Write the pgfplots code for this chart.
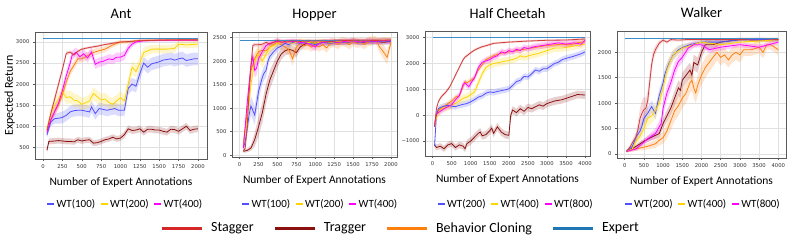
\documentclass[border=0pt]{standalone}
\usepackage{pgfplots}
\usepackage{pgfplotstable}
\pgfplotsset{compat=1.18}
\usepgfplotslibrary{fillbetween}
\usepackage{fontspec}
\setmainfont{Carlito}
\newfontfamily\dejavu{DejaVu Sans}
\newcommand\tickfont{\dejavu\fontsize{5.3}{6}\selectfont}

\definecolor{cS}{HTML}{D33C3C}
\definecolor{cSl}{HTML}{D62728}
\definecolor{cT}{HTML}{8B1010}
\definecolor{cB}{HTML}{FF7F0E}
\definecolor{cE}{HTML}{3C8CC8}
\definecolor{cEl}{HTML}{1F77B4}
\definecolor{cW1}{HTML}{5050FF}
\definecolor{cW2}{HTML}{FFD400}
\definecolor{cW3}{HTML}{FF00FF}

% ---------------- Ant ----------------
\pgfplotstableread[row sep=\\]{x y e\\ 50 900 60\\ 100 1300 80\\ 150 1650 90\\ 200 2000 90\\ 250 2350 80\\ 300 2730 50\\ 350 2760 40\\ 400 2690 40\\ 450 2780 30\\ 500 2830 30\\ 550 2850 30\\ 600 2870 30\\ 700 2900 30\\ 800 2940 25\\ 900 2970 25\\ 1000 3000 20\\ 1100 3010 20\\ 1250 3030 20\\ 1500 3040 15\\ 1750 3050 15\\ 2000 3050 15\\}\antS
\pgfplotstableread[row sep=\\]{x y e\\ 50 430 60\\ 75 640 70\\ 150 650 70\\ 200 660 70\\ 250 650 70\\ 300 640 70\\ 350 640 70\\ 400 630 70\\ 450 680 70\\ 500 650 70\\ 550 670 70\\ 600 680 70\\ 650 600 70\\ 700 610 70\\ 750 640 70\\ 800 680 70\\ 850 700 70\\ 900 740 70\\ 950 700 70\\ 1000 720 70\\ 1050 800 80\\ 1100 940 80\\ 1150 900 80\\ 1200 910 80\\ 1250 940 80\\ 1300 860 80\\ 1350 930 80\\ 1400 930 80\\ 1450 910 80\\ 1500 910 80\\ 1550 880 80\\ 1600 860 80\\ 1650 930 80\\ 1700 920 80\\ 1750 880 80\\ 1800 940 80\\ 1850 1000 80\\ 1900 900 80\\ 1950 930 80\\ 2000 940 80\\}\antT
\pgfplotstableread[row sep=\\]{x y e\\ 50 900 60\\ 100 1150 80\\ 150 1350 90\\ 200 1500 100\\ 250 1750 100\\ 300 2050 100\\ 350 2300 100\\ 400 2450 100\\ 450 2600 90\\ 500 2600 90\\ 550 2650 90\\ 600 2700 80\\ 650 2750 80\\ 700 2780 80\\ 800 2830 70\\ 900 2930 60\\ 1000 3000 50\\ 1100 3000 40\\ 1250 3040 30\\ 1500 3050 25\\ 1750 3050 25\\ 2000 3050 25\\}\antB
\pgfplotstableread[row sep=\\]{x y e\\ 50 790 60\\ 100 1100 100\\ 150 1180 120\\ 200 1190 130\\ 250 1210 140\\ 300 1260 140\\ 350 1340 140\\ 400 1370 140\\ 450 1380 140\\ 500 1380 140\\ 550 1360 140\\ 600 1340 140\\ 625 1460 140\\ 675 1300 140\\ 725 1420 140\\ 775 1400 140\\ 825 1380 140\\ 875 1400 140\\ 925 1420 140\\ 975 1380 140\\ 1050 1380 140\\ 1100 1900 150\\ 1150 2000 150\\ 1200 1950 150\\ 1250 2250 150\\ 1300 2500 150\\ 1350 2400 150\\ 1400 2480 150\\ 1500 2530 150\\ 1550 2570 150\\ 1650 2600 150\\ 1700 2570 150\\ 1750 2600 150\\ 1800 2620 150\\ 1850 2560 150\\ 1950 2600 150\\ 2000 2600 150\\}\antWa
\pgfplotstableread[row sep=\\]{x y e\\ 50 950 60\\ 100 1300 120\\ 150 1500 150\\ 200 1650 150\\ 250 1820 150\\ 300 1680 150\\ 350 1700 150\\ 400 1620 150\\ 450 1600 150\\ 500 1520 150\\ 550 1560 150\\ 600 1600 150\\ 650 1780 150\\ 700 1700 150\\ 750 1620 150\\ 800 1650 150\\ 850 1560 150\\ 900 1520 150\\ 950 1600 150\\ 1000 1680 150\\ 1050 1600 150\\ 1100 2000 150\\ 1150 2400 150\\ 1200 2300 150\\ 1250 2500 150\\ 1300 2750 120\\ 1400 2830 100\\ 1500 2830 100\\ 1600 2830 100\\ 1700 2850 100\\ 1750 2950 80\\ 1850 2930 80\\ 2000 2950 80\\}\antWb
\pgfplotstableread[row sep=\\]{x y e\\ 50 850 60\\ 100 1150 100\\ 150 1350 110\\ 200 1550 110\\ 250 1850 110\\ 300 2200 110\\ 350 2500 110\\ 375 2680 110\\ 425 2760 110\\ 475 2650 110\\ 525 2720 110\\ 575 2620 110\\ 625 2760 110\\ 675 2470 110\\ 725 2520 110\\ 775 2540 110\\ 850 2600 110\\ 900 2580 110\\ 950 2640 110\\ 1000 2640 110\\ 1050 2680 110\\ 1100 2850 90\\ 1150 2950 70\\ 1200 3000 50\\ 1300 3030 30\\ 1500 3040 25\\ 1750 3040 25\\ 2000 3040 25\\}\antWc

% ---------------- Hopper ----------------
\pgfplotstableread[row sep=\\]{x y e\\ 50 90 30\\ 75 150 50\\ 100 600 100\\ 125 1300 120\\ 150 1900 100\\ 175 2330 50\\ 200 2350 40\\ 250 2350 40\\ 300 2360 40\\ 350 2400 40\\ 400 2360 40\\ 450 2400 40\\ 500 2440 40\\ 550 2400 40\\ 600 2420 40\\ 700 2430 40\\ 800 2420 40\\ 1000 2430 40\\ 1200 2420 40\\ 1400 2440 40\\ 1600 2430 40\\ 1800 2440 40\\ 2000 2450 40\\}\hopS
\pgfplotstableread[row sep=\\]{x y e\\ 50 80 30\\ 100 100 40\\ 150 150 60\\ 200 330 150\\ 250 600 200\\ 300 900 220\\ 350 1300 220\\ 400 1600 200\\ 450 1800 180\\ 500 2000 150\\ 550 2150 120\\ 600 2220 100\\ 650 2250 100\\ 700 2230 100\\ 750 2180 100\\ 800 2300 80\\ 850 2350 60\\ 900 2400 60\\ 1000 2380 60\\ 1100 2400 60\\ 1200 2390 60\\ 1300 2410 60\\ 1400 2400 60\\ 1500 2420 60\\ 1600 2400 60\\ 1700 2410 60\\ 1800 2420 60\\ 1900 2400 60\\ 2000 2420 60\\}\hopT
\pgfplotstableread[row sep=\\]{x y e\\ 50 250 80\\ 100 900 150\\ 125 1400 150\\ 150 1800 150\\ 200 2050 150\\ 250 2200 120\\ 300 2230 120\\ 350 2220 120\\ 400 2300 120\\ 450 2350 100\\ 500 2400 100\\ 550 2350 100\\ 600 2300 120\\ 650 2250 130\\ 700 2050 150\\ 750 2300 120\\ 800 2380 100\\ 850 2330 100\\ 900 2350 100\\ 950 2300 100\\ 1000 2350 100\\ 1050 2300 100\\ 1100 2350 100\\ 1150 2280 100\\ 1200 2380 100\\ 1250 2400 100\\ 1300 2350 100\\ 1350 2420 100\\ 1400 2400 100\\ 1450 2350 100\\ 1500 2420 100\\ 1550 2380 100\\ 1600 2400 100\\ 1650 2350 100\\ 1700 2420 100\\ 1750 2430 100\\ 1800 2450 80\\ 1850 2300 120\\ 1900 2200 150\\ 1950 2080 150\\ 2000 2400 100\\}\hopB
\pgfplotstableread[row sep=\\]{x y e\\ 50 150 60\\ 75 300 100\\ 100 550 150\\ 125 850 200\\ 150 1050 200\\ 175 950 200\\ 200 850 200\\ 225 1100 200\\ 250 1350 180\\ 300 1650 150\\ 325 1750 150\\ 350 1800 150\\ 375 2000 120\\ 400 2100 100\\ 450 2200 80\\ 500 2280 80\\ 550 2320 60\\ 600 2380 60\\ 650 2350 60\\ 700 2400 60\\ 800 2380 60\\ 900 2400 60\\ 1000 2350 60\\ 1100 2400 60\\ 1200 2380 60\\ 1300 2410 60\\ 1400 2400 60\\ 1500 2420 60\\ 1600 2400 60\\ 1700 2420 60\\ 1800 2410 60\\ 1900 2430 60\\ 2000 2420 60\\}\hopWa
\pgfplotstableread[row sep=\\]{x y e\\ 50 200 80\\ 100 700 150\\ 125 1100 150\\ 150 1500 150\\ 175 1750 150\\ 200 2000 150\\ 250 2150 150\\ 300 2000 150\\ 350 2150 120\\ 400 2300 100\\ 450 2330 80\\ 500 2380 60\\ 600 2400 60\\ 700 2380 60\\ 800 2420 60\\ 900 2400 60\\ 1000 2380 60\\ 1100 2420 60\\ 1200 2400 60\\ 1300 2420 60\\ 1400 2410 60\\ 1500 2430 60\\ 1600 2420 60\\ 1700 2430 60\\ 1800 2440 60\\ 1900 2450 60\\ 2000 2450 60\\}\hopWb
\pgfplotstableread[row sep=\\]{x y e\\ 50 150 60\\ 100 1100 150\\ 150 1900 150\\ 175 2100 150\\ 200 1800 150\\ 225 1850 150\\ 250 2050 120\\ 300 2200 100\\ 350 2330 80\\ 400 2380 60\\ 450 2400 60\\ 500 2420 60\\ 600 2400 60\\ 700 2420 60\\ 800 2400 60\\ 900 2380 60\\ 1000 2300 80\\ 1050 2380 60\\ 1100 2400 60\\ 1200 2420 60\\ 1300 2400 60\\ 1400 2420 60\\ 1500 2430 60\\ 1600 2410 60\\ 1700 2430 60\\ 1800 2420 60\\ 1900 2440 60\\ 2000 2430 60\\}\hopWc

% ---------------- Half Cheetah ----------------
\pgfplotstableread[row sep=\\]{x y e\\ 50 -450 60\\ 100 250 80\\ 150 520 60\\ 200 650 60\\ 250 750 60\\ 300 820 60\\ 350 900 60\\ 400 1000 60\\ 450 1100 60\\ 500 1250 60\\ 550 1400 60\\ 600 1550 60\\ 650 1700 60\\ 700 1850 60\\ 750 2000 60\\ 800 2150 60\\ 850 2250 60\\ 900 2300 60\\ 1000 2420 50\\ 1100 2520 50\\ 1200 2590 50\\ 1300 2650 50\\ 1450 2710 50\\ 1600 2780 40\\ 1750 2800 40\\ 2000 2830 40\\ 2500 2870 40\\ 3000 2900 40\\ 3500 2910 40\\ 4000 2950 40\\}\cheS
\pgfplotstableread[row sep=\\]{x y e\\ 50 -1150 100\\ 100 -1250 120\\ 200 -1200 120\\ 300 -1300 120\\ 400 -1150 120\\ 500 -1100 120\\ 600 -1250 120\\ 700 -1150 130\\ 800 -1200 130\\ 850 -1300 130\\ 900 -1100 140\\ 1000 -1000 150\\ 1100 -850 150\\ 1200 -700 150\\ 1250 -650 150\\ 1300 -800 150\\ 1400 -750 150\\ 1500 -600 150\\ 1550 -500 150\\ 1600 -700 150\\ 1700 -450 150\\ 1800 -650 150\\ 1900 -750 150\\ 2000 -780 150\\ 2050 0 150\\ 2100 200 150\\ 2200 100 150\\ 2300 250 150\\ 2400 150 150\\ 2500 300 150\\ 2600 250 150\\ 2800 400 150\\ 2900 350 150\\ 3000 450 150\\ 3200 550 150\\ 3400 600 150\\ 3600 700 150\\ 3800 800 150\\ 4000 780 150\\}\cheT
\pgfplotstableread[row sep=\\]{x y e\\ 50 -400 80\\ 100 100 100\\ 200 250 100\\ 300 300 100\\ 400 450 100\\ 500 550 100\\ 600 700 100\\ 700 750 100\\ 800 1100 100\\ 850 1300 100\\ 900 1250 100\\ 1000 1350 100\\ 1100 1450 100\\ 1200 1750 100\\ 1300 1950 100\\ 1400 2150 100\\ 1600 2300 100\\ 1800 2400 100\\ 2000 2450 100\\ 2200 2500 100\\ 2400 2550 100\\ 2600 2600 100\\ 2800 2650 100\\ 3000 2700 100\\ 3200 2720 100\\ 3400 2750 100\\ 3600 2720 100\\ 3800 2800 100\\ 4000 2850 100\\}\cheB
\pgfplotstableread[row sep=\\]{x y e\\ 50 -1200 100\\ 100 0 120\\ 150 250 120\\ 200 300 120\\ 300 350 120\\ 400 380 120\\ 500 350 120\\ 600 330 120\\ 700 380 120\\ 800 420 120\\ 900 450 120\\ 1000 520 120\\ 1100 600 120\\ 1200 700 120\\ 1300 750 120\\ 1400 850 120\\ 1500 900 120\\ 1600 880 120\\ 1700 920 120\\ 1800 950 120\\ 1900 980 120\\ 2000 1020 120\\ 2100 1150 120\\ 2200 1300 120\\ 2300 1350 120\\ 2400 1500 120\\ 2500 1480 120\\ 2600 1600 120\\ 2700 1750 120\\ 2800 1700 120\\ 2900 1800 120\\ 3000 1800 120\\ 3100 1900 120\\ 3200 2000 120\\ 3300 2050 120\\ 3400 2150 120\\ 3500 2200 120\\ 3700 2280 120\\ 3900 2380 120\\ 4000 2450 120\\}\cheWa
\pgfplotstableread[row sep=\\]{x y e\\ 50 -400 80\\ 100 -100 120\\ 200 200 150\\ 300 300 150\\ 400 300 150\\ 500 400 150\\ 600 450 150\\ 700 550 150\\ 800 650 150\\ 900 700 150\\ 1000 800 150\\ 1100 900 150\\ 1200 1250 150\\ 1300 1600 150\\ 1400 1850 150\\ 1500 1950 150\\ 1600 2000 150\\ 1800 2060 150\\ 2000 2120 150\\ 2200 2200 150\\ 2300 2300 150\\ 2400 2250 150\\ 2600 2330 150\\ 2800 2400 150\\ 3000 2500 150\\ 3200 2600 150\\ 3400 2600 150\\ 3600 2650 150\\ 3800 2700 150\\ 4000 2750 150\\}\cheWb
\pgfplotstableread[row sep=\\]{x y e\\ 50 -400 80\\ 100 50 120\\ 200 150 120\\ 300 250 120\\ 400 330 120\\ 500 400 120\\ 600 600 120\\ 700 750 120\\ 800 1200 120\\ 850 1250 120\\ 950 1100 120\\ 1050 1350 120\\ 1100 1450 120\\ 1200 1850 120\\ 1300 2050 120\\ 1400 2100 120\\ 1500 2150 120\\ 1600 2250 120\\ 1700 2300 120\\ 1800 2450 120\\ 1900 2400 120\\ 2000 2500 120\\ 2100 2450 120\\ 2200 2550 120\\ 2300 2500 120\\ 2400 2620 120\\ 2500 2580 120\\ 2700 2660 120\\ 2900 2700 120\\ 3100 2750 120\\ 3300 2800 120\\ 3500 2750 120\\ 3700 2800 120\\ 3900 2750 120\\ 4000 2900 120\\}\cheWc

% ---------------- Walker ----------------
\pgfplotstableread[row sep=\\]{x y e\\ 50 60 20\\ 100 100 30\\ 150 150 40\\ 200 220 60\\ 250 280 80\\ 300 340 100\\ 350 500 150\\ 400 700 200\\ 450 800 250\\ 500 870 250\\ 550 900 200\\ 600 1050 200\\ 650 1400 200\\ 700 1750 150\\ 750 1950 100\\ 800 2050 80\\ 900 2180 50\\ 1000 2240 30\\ 1100 2200 30\\ 1200 2250 30\\ 1400 2240 30\\ 1600 2250 30\\ 2000 2250 30\\ 2500 2250 25\\ 3000 2250 25\\ 3500 2270 25\\ 4000 2250 25\\}\walS
\pgfplotstableread[row sep=\\]{x y e\\ 50 50 20\\ 300 150 40\\ 500 250 50\\ 700 330 60\\ 900 400 80\\ 1000 600 100\\ 1100 750 120\\ 1200 900 120\\ 1300 1100 150\\ 1400 1300 150\\ 1450 1250 150\\ 1500 1450 150\\ 1600 1550 150\\ 1700 1650 150\\ 1750 1550 150\\ 1800 1800 150\\ 1900 1750 150\\ 2000 2000 120\\ 2100 2150 100\\ 2300 2150 80\\ 2500 2200 60\\ 3000 2250 40\\ 3500 2240 40\\ 4000 2250 40\\}\walT
\pgfplotstableread[row sep=\\]{x y e\\ 50 50 20\\ 300 100 40\\ 600 150 60\\ 800 200 80\\ 900 270 100\\ 1000 320 120\\ 1100 450 150\\ 1200 650 180\\ 1300 850 200\\ 1400 950 200\\ 1500 1100 200\\ 1600 1200 200\\ 1700 1400 200\\ 1750 1450 200\\ 1800 1300 200\\ 1850 1200 200\\ 1900 1350 200\\ 2000 1550 200\\ 2100 1700 200\\ 2200 1800 180\\ 2300 1900 180\\ 2400 2000 160\\ 2500 1900 160\\ 2600 1950 150\\ 2700 1850 150\\ 2800 1950 150\\ 2900 2000 150\\ 3000 1950 150\\ 3100 2050 120\\ 3300 2050 120\\ 3500 2100 120\\ 3600 2000 120\\ 3700 2150 100\\ 3800 2150 100\\ 3900 2100 100\\ 4000 2050 100\\}\walB
\pgfplotstableread[row sep=\\]{x y e\\ 50 50 20\\ 200 150 40\\ 300 340 80\\ 400 450 100\\ 450 550 120\\ 500 700 120\\ 600 800 120\\ 700 930 120\\ 800 800 120\\ 900 1150 120\\ 1000 1400 120\\ 1050 1580 120\\ 1150 1780 100\\ 1250 1930 100\\ 1400 2050 80\\ 1550 2110 60\\ 1700 2150 50\\ 2000 2200 40\\ 2500 2200 40\\ 3000 2250 30\\ 3500 2250 30\\ 4000 2250 30\\}\walWa
\pgfplotstableread[row sep=\\]{x y e\\ 50 50 20\\ 200 100 40\\ 300 250 60\\ 400 350 80\\ 500 500 120\\ 600 700 150\\ 700 750 150\\ 800 850 150\\ 900 1000 150\\ 1000 1300 150\\ 1100 1650 150\\ 1200 1850 120\\ 1300 1980 100\\ 1500 2080 80\\ 1700 2130 60\\ 2000 2200 40\\ 2500 2150 40\\ 3000 2200 30\\ 3500 2220 30\\ 4000 2250 30\\}\walWb
\pgfplotstableread[row sep=\\]{x y e\\ 50 50 20\\ 300 100 40\\ 600 300 60\\ 800 400 100\\ 950 600 120\\ 1000 900 150\\ 1100 1200 150\\ 1200 1400 150\\ 1300 1650 150\\ 1400 1820 120\\ 1500 1900 100\\ 1650 2080 80\\ 1800 2150 60\\ 2000 2150 50\\ 2200 2050 60\\ 2500 2100 60\\ 3000 2150 50\\ 3500 2100 50\\ 4000 2200 40\\}\walWc

\newcommand{\band}[3]{%
  \addplot[draw=none, name path=#3u, forget plot] table[x=x, y expr=\thisrow{y}+\thisrow{e}] {#2};
  \addplot[draw=none, name path=#3l, forget plot] table[x=x, y expr=\thisrow{y}-\thisrow{e}] {#2};
  \addplot[fill=#1, fill opacity=0.2, draw=none, forget plot] fill between[of=#3u and #3l];
}
\newcommand{\curve}[2]{\addplot[#1, line width=0.8pt, forget plot] table[x=x, y=y] {#2};}
\newcommand{\lcurve}[3]{\addplot[#1, line width=0.8pt] table[x=x, y=y] {#2}; \addlegendentry{#3}}

\pgfplotsset{panel/.style={
  scale only axis, anchor=south west,
  axis line style={black!65, line width=0.6pt},
  grid=major, major grid style={black!12, line width=0.5pt},
  tick align=outside, major tick length=2pt,
  xtick pos=lower, ytick pos=left,
  tick style={black!65, line width=0.5pt},
  tick label style={font=\tickfont, text=black!80},
  /pgf/number format/assume math mode=true,
  /pgf/number format/1000 sep={},
  xlabel={Number of Expert Annotations},
  xlabel style={font=\fontsize{11.5}{13}\selectfont, at={(axis description cs:0.5,0)}, anchor=base, yshift=-27pt},
  title style={font=\fontsize{14.5}{16}\selectfont, at={(axis description cs:0.5,1)}, anchor=base, yshift=7pt},
  legend columns=-1,
  legend style={draw=none, fill=none, inner sep=0pt, anchor=center,
    font=\fontsize{11}{12}\selectfont,
    nodes={inner sep=1.5pt},
    /tikz/every even column/.append style={column sep=3pt}},
  legend image code/.code={\draw[line width=2pt] (0pt,0pt) -- (7pt,0pt);},
}}

\begin{document}
\begin{tikzpicture}

% Ant
\begin{axis}[panel, at={(35pt,90pt)}, width=172pt, height=127pt,
  xmin=-104, xmax=2117, ymin=223, ymax=3237,
  xtick={0,250,...,2000}, ytick={500,1000,...,3000},
  title={Ant}, ylabel={Expected Return},
  ylabel style={font=\fontsize{12}{13}\selectfont, at={(axis description cs:-0.128,0.5)}, anchor=base},
  legend style={at={(axis description cs:0.523,-0.354)}}]
\band{cT}{\antT}{aT}\band{cB}{\antB}{aB}\band{cW1}{\antWa}{aWa}\band{cW2}{\antWb}{aWb}\band{cW3}{\antWc}{aWc}\band{cS}{\antS}{aS}
\curve{cT}{\antT}\curve{cB}{\antB}
\lcurve{cW1}{\antWa}{WT(100)}\lcurve{cW2}{\antWb}{WT(200)}\lcurve{cW3}{\antWc}{WT(400)}
\curve{cS}{\antS}
\addplot[cE, line width=0.9pt, forget plot] coordinates {(0,3090) (2000,3090)};
\end{axis}

% Hopper
\begin{axis}[panel, at={(232pt,92pt)}, width=165pt, height=125pt,
  xmin=-100, xmax=2080, ymin=-40, ymax=2620,
  xtick={0,250,...,2000}, ytick={0,500,...,2500},
  title={Hopper},
  legend style={at={(axis description cs:0.533,-0.376)}}]
\band{cT}{\hopT}{hT}\band{cB}{\hopB}{hB}\band{cW1}{\hopWa}{hWa}\band{cW2}{\hopWb}{hWb}\band{cW3}{\hopWc}{hWc}\band{cS}{\hopS}{hS}
\addplot[cE, line width=0.9pt, forget plot] coordinates {(0,2450) (2000,2450)};
\curve{cT}{\hopT}\curve{cB}{\hopB}
\lcurve{cW1}{\hopWa}{WT(100)}\lcurve{cW2}{\hopWb}{WT(200)}\lcurve{cW3}{\hopWc}{WT(400)}
\curve{cS}{\hopS}
\end{axis}

% Half Cheetah
\begin{axis}[panel, at={(425pt,93pt)}, width=165pt, height=124.3pt,
  xmin=-200, xmax=4130, ymin=-1580, ymax=3232,
  xtick={0,500,...,4000}, ytick={-1000,0,1000,2000,3000},
  yticklabels={−1000,0,1000,2000,3000},
  title={Half Cheetah},
  legend style={at={(axis description cs:0.548,-0.386)}}]
\band{cT}{\cheT}{cT}\band{cB}{\cheB}{cB}\band{cW1}{\cheWa}{cWa}\band{cW2}{\cheWb}{cWb}\band{cW3}{\cheWc}{cWc}\band{cS}{\cheS}{cS}
\curve{cT}{\cheT}\curve{cB}{\cheB}
\lcurve{cW1}{\cheWa}{WT(200)}\lcurve{cW2}{\cheWb}{WT(400)}\lcurve{cW3}{\cheWc}{WT(800)}
\curve{cS}{\cheS}
\addplot[cE, line width=0.9pt, forget plot] coordinates {(0,3000) (4000,3000)};
\end{axis}

% Walker
\begin{axis}[panel, at={(617pt,91pt)}, width=169pt, height=127pt,
  xmin=-200, xmax=4200, ymin=-80, ymax=2419,
  xtick={0,500,...,4000}, ytick={0,500,...,2000},
  title={Walker},
  legend style={at={(axis description cs:0.506,-0.362)}}]
\band{cT}{\walT}{wT}\band{cB}{\walB}{wB}\band{cW1}{\walWa}{wWa}\band{cW2}{\walWb}{wWb}\band{cW3}{\walWc}{wWc}\band{cS}{\walS}{wS}
\curve{cB}{\walB}\curve{cT}{\walT}
\lcurve{cW1}{\walWa}{WT(200)}\lcurve{cW2}{\walWb}{WT(400)}\lcurve{cW3}{\walWc}{WT(800)}
\curve{cS}{\walS}
\addplot[cE, line width=0.9pt, forget plot] coordinates {(0,2276) (4000,2276)};
\end{axis}

% shared legend
\begin{axis}[hide axis, scale only axis, anchor=south west, at={(0pt,0pt)},
  width=793pt, height=40pt, xmin=0, xmax=1, ymin=0, ymax=1,
  legend columns=-1,
  legend style={draw=none, fill=none, at={(axis description cs:0.505,0.525)}, anchor=center,
    font=\fontsize{14}{15}\selectfont, inner sep=0pt, nodes={inner sep=1.5pt},
    /tikz/every odd column/.append style={column sep=6pt},
    /tikz/every even column/.append style={column sep=18pt}},
  legend image code/.code={\draw[line width=3pt] (0pt,0pt) -- (40pt,0pt);}]
\addplot[draw=none, forget plot] coordinates {(0,0) (1,1)};
\addlegendimage{cSl}\addlegendentry{Stagger}
\addlegendimage{cT}\addlegendentry{Tragger}
\addlegendimage{cB}\addlegendentry{Behavior Cloning}
\addlegendimage{cEl}\addlegendentry{Expert}
\end{axis}

\pgfresetboundingbox
\path[use as bounding box] (0pt,0pt) rectangle (793pt,249pt);
\end{tikzpicture}
\end{document}
